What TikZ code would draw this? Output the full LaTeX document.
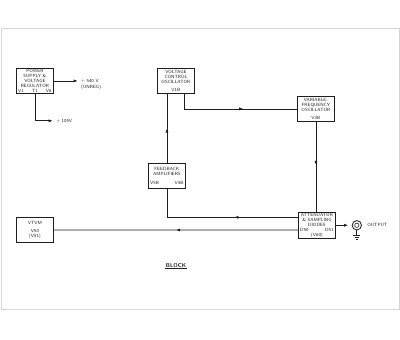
\documentclass[tikz,border=0pt]{standalone}
\usepackage{xcolor}
\usepackage{tikz}
\usetikzlibrary{arrows.meta, calc, decorations.markings}
\definecolor{Ink}{HTML}{1F1F1F}
\definecolor{Frame}{HTML}{D6D6D6}
\newcommand{\spreadrow}[2]{\makebox[1.0cm]{#1\hfill #2}}
\newcommand{\spreadthree}[3]{\makebox[1.0cm]{#1\hfill #2\hfill #3}}

\begin{document}
\begin{tikzpicture}[x=0.03cm, y=-0.03cm,
    blk/.style={draw=Ink, line width=0.7pt, anchor=north west, align=center,
                minimum width=1.11cm, minimum height=0.75cm, inner sep=0.5pt,
                font=\fontsize{3.9}{4.3}\selectfont\sffamily, text=Ink},
    wire/.style={draw=Ink, line width=0.7pt},
    tip/.style={-{Latex[length=3.6pt, width=2.6pt]}},
    midarr/.style={postaction={decorate}, decoration={markings,
                mark=at position #1 with {\arrow{Latex[length=3.6pt, width=2.6pt]}}}},
    lbl/.style={anchor=west, align=left, inner sep=1pt,
                font=\fontsize{3.9}{4.4}\selectfont\sffamily, text=Ink}]
  \useasboundingbox (0,0) rectangle (400,339);
  \draw[Frame, line width=0.85pt] (1,28) rectangle (399,309);

  % blocks
  \node[blk] (psu) at (16,68) {POWER\\SUPPLY \&\\VOLTAGE\\REGULATOR\\\spreadthree{V1}{T1}{V6}};
  \node[blk] (vco) at (157,68) {VOLTAGE\\CONTROL\\OSCILLATOR\\[2.5pt]V1B};
  \node[blk] (vfo) at (297,96) {VARIABLE-\\FREQUENCY\\OSCILLATOR\\[2.5pt]V3B};
  \node[blk] (fba) at (148,163) {FEEDBACK\\AMPLIFIERS\\[3pt]\spreadrow{V5B}{V4B}};
  \node[blk] (att) at (298,212) {ATTENUATOR\\\& SAMPLING\\DIODES\\\spreadrow{D50}{D51}\\(V60)};
  \node[blk] (vtvm) at (16,217) {VTVM\\[3pt]V50\\(V51)};

  % supply outputs
  \draw[wire, tip] (psu.east) -- ++(24,0) coordinate (hv);
  \node[lbl, anchor=north west] (hvlbl) at ($(hv)+(2,-2.5)$) {+ 540 V\\(UNREG)};
  \draw[wire, tip] (psu.south) |- ++(18,27) coordinate (lv);
  \node[lbl] (lvlbl) at ($(lv)+(2,0)$) {+ 105V};

  % loop
  \coordinate (vcoout) at ($(vco.south west)!0.73!(vco.south east)$);
  \coordinate (attfb) at ($(att.north west)!0.2!(att.south west)$);
  \coordinate (attvm) at ($(att.north west)!0.68!(att.south west)$);
  \draw[wire, midarr=0.58] (vcoout) |- (vfo.west);
  \draw[wire, midarr=0.48] (vfo.south) -- (vfo.south |- att.north);
  \draw[wire, midarr=0.40] (attfb) -| (fba.south);
  \draw[wire, midarr=0.5] (fba.north) -- (fba.north |- vco.south);
  \draw[wire, midarr=0.5] (attvm) -- (vtvm.east);

  % output jack
  \node[draw=Ink, circle, line width=0.7pt, minimum size=0.28cm, inner sep=0pt] (jack) at ($(att.east)+(21,0)$) {};
  \node[draw=Ink, circle, line width=0.5pt, minimum size=0.13cm, inner sep=0pt] (pin) at (jack) {};
  \draw[wire, tip, shorten >=3pt] (att.east) -- (jack.west);
  \draw[wire] (jack.south) -- ++(0,5) coordinate (gnd);
  \draw[wire] ($(gnd)+(-3.5,0)$) -- ($(gnd)+(3.5,0)$);
  \draw[wire] ($(gnd)+(-2.3,2)$) -- ($(gnd)+(2.3,2)$);
  \draw[wire] ($(gnd)+(-1,4)$) -- ($(gnd)+(1,4)$);
  \node[lbl] (outlbl) at ($(jack.east)+(4,0)$) {OUTPUT};

  % title
  \node[font=\fontsize{4.8}{5}\selectfont\sffamily\bfseries, text=Ink, inner sep=0.5pt] (title) at (176,266) {BLOCK};
  \draw[Ink, line width=1pt] (title.south west) -- (title.south east);
\end{tikzpicture}
\end{document}
